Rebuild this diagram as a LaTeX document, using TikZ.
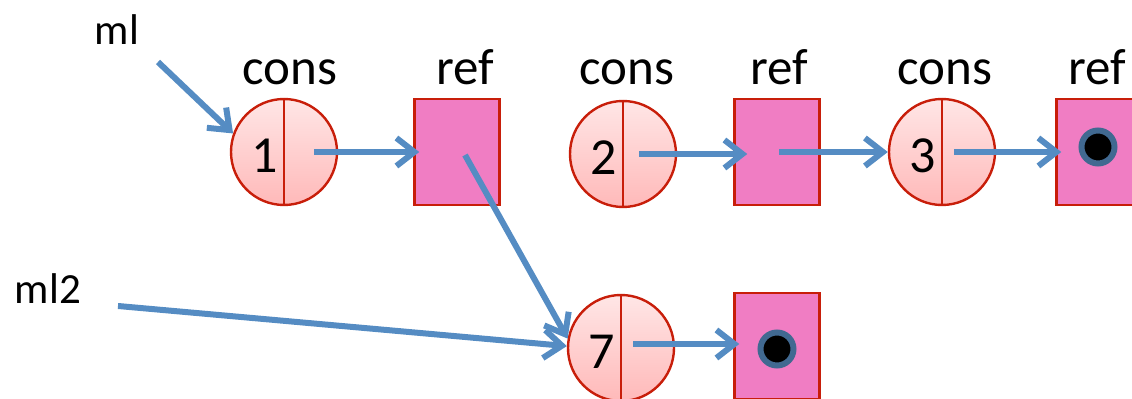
\documentclass[tikz,border=0pt]{standalone}
\usepackage{fontspec}
\setmainfont{Carlito}
\usetikzlibrary{arrows.meta}
\definecolor{cellred}{RGB}{200,30,10}
\definecolor{celltop}{RGB}{255,230,230}
\definecolor{cellbot}{RGB}{255,185,185}
\definecolor{refpink}{RGB}{240,125,195}
\definecolor{ptrblue}{RGB}{85,140,195}
\definecolor{nilring}{RGB}{65,105,145}
\tikzset{
  cons/.style={circle, draw=cellred, line width=1.2pt, top color=celltop, bottom color=cellbot, minimum size=53pt, inner sep=0pt},
  refbox/.style={rectangle, draw=cellred, line width=1.2pt, fill=refpink, minimum width=42.5pt, minimum height=53pt},
  ptr/.style={draw=ptrblue, line width=3pt, -{Straight Barb[length=9pt,width=14pt]}},
  tag/.style={anchor=base, inner sep=0pt, font=\fontsize{25.5}{30}\selectfont},
  num/.style={inner sep=0pt, font=\fontsize{26}{30}\selectfont},
  var/.style={inner sep=0pt, font=\fontsize{21.5}{25}\selectfont},
  nil/.style={circle, fill=black, draw=nilring, line width=3pt, minimum size=16.5pt, inner sep=0pt}
}
\begin{document}
\begin{tikzpicture}[x=0.5pt, y=-0.5pt]
  \useasboundingbox (0,0) rectangle (1132,399);
  % cells
  \node[cons] (c1) at (284,152) {};
  \node[refbox] (r1) at (457,152) {};
  \node[cons] (c2) at (623,154) {};
  \node[refbox] (r2) at (777,152) {};
  \node[cons] (c3) at (942,152) {};
  \node[refbox] (r3) at (1099,152) {};
  \node[cons] (c7) at (621,348) {};
  \node[refbox] (r7) at (777,346) {};
  \foreach \c in {c1,c2,c3,c7}
    \draw[cellred, line width=1.2pt] (\c.north) -- (\c.south);
  \node[num] (n1) at ([xshift=-9.5pt, yshift=-2pt]c1.center) {1};
  \node[num] (n2) at ([xshift=-9.5pt, yshift=-2pt]c2.center) {2};
  \node[num] (n3) at ([xshift=-9.5pt, yshift=-2pt]c3.center) {3};
  \node[num] (n7) at ([xshift=-9.5pt, yshift=-2pt]c7.center) {7};
  \node[nil] (d3) at (1098,147) {};
  \node[nil] (d7) at (777,349) {};
  % labels
  \node[tag] (t1) at (290,85) {cons};
  \node[tag] (t2) at (465,85) {ref};
  \node[tag] (t3) at (627,85) {cons};
  \node[tag] (t4) at (779,85) {ref};
  \node[tag] (t5) at (945,85) {cons};
  \node[tag] (t6) at (1097,85) {ref};
  \node[var] (ml) at (117,30) {ml};
  \node[var] (ml2) at (48,289) {ml2};
  % pointers
  \coordinate (p1) at (158,62);
  \coordinate (p2) at (118,306);
  \draw[ptr] (p1) -- (c1.160);
  \draw[ptr] (p2) -- (c7.178);
  \draw[ptr] ([xshift=15pt]c1.center) -- ([xshift=3pt]r1.west);
  \draw[ptr] ([xshift=4pt, yshift=-1.5pt]r1.center) -- (c7.170);
  \draw[ptr] ([xshift=8pt]c2.center) -- ([xshift=7pt, yshift=-1pt]r2.west);
  \draw[ptr] ([xshift=1pt]r2.center) -- (c3.west);
  \draw[ptr] ([xshift=6pt]c3.center) -- ([xshift=3pt]r3.west);
  \draw[ptr] ([xshift=6pt, yshift=2pt]c7.center) -- ([xshift=3pt, yshift=1pt]r7.west);
\end{tikzpicture}
\end{document}
